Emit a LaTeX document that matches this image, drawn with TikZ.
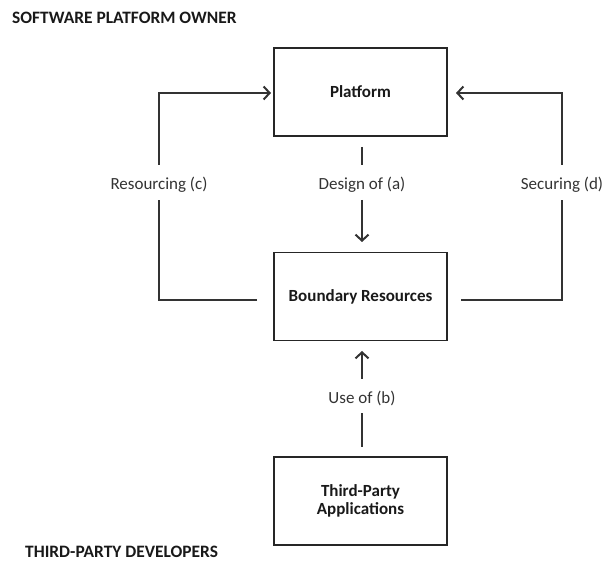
\documentclass[tikz,border=0pt]{standalone}
\usepackage{fontspec}
\setmainfont{Carlito}
\usetikzlibrary{arrows.meta}
\begin{document}
\begin{tikzpicture}[x=1pt,y=-1pt,
  box/.style={draw=black!85, line width=1.6pt, minimum width=173pt, minimum height=88pt,
    inner sep=0pt, font=\fontsize{17}{19}\selectfont\bfseries, align=center, text=black!90},
  lbl/.style={font=\fontsize{17}{19}\selectfont, text=black!80, inner sep=0pt},
  hdr/.style={font=\fontsize{17.4}{19}\selectfont\bfseries, text=black!90, inner sep=0pt, anchor=west},
  conn/.style={draw=black!80, line width=1.1pt},
  tip/.style={-{Straight Barb[length=6pt,width=13pt,line width=2pt]}}]
\useasboundingbox (0,0) rectangle (603,561);

% headings
\node[hdr] (owner) at (12,18) {SOFTWARE PLATFORM OWNER};
\node[hdr] (devs) at (25,552) {THIRD-PARTY DEVELOPERS};

% boxes
\node[box] (plat) at (360.5,92) {Platform};
\node[box] (bres) at (360.5,296.5) {Boundary Resources};
\node[box] (tpa) at (360.5,501) {Third-Party\\[-1pt]Applications};

% labels
\node[lbl] (la) at (362,185) {Design of (a)};
\node[lbl] (lb) at (362,398) {Use of (b)};
\node[lbl] (lc) at (159,185) {Resourcing (c)};
\node[lbl] (ld) at (562,185) {Securing (d)};

% free ends of the connectors
\coordinate (a1) at (362,147);
\coordinate (a2) at (362,242);
\coordinate (b1) at (362,447);
\coordinate (b2) at (362,351);
\coordinate (c0) at (257,300);
\coordinate (c1) at (159,300);
\coordinate (c2) at (159,93);
\coordinate (c3) at (271,93);
\coordinate (d0) at (461,300);
\coordinate (d1) at (562,300);
\coordinate (d2) at (562,93);
\coordinate (d3) at (456,93);

% design of (a)
\draw[conn] (a1) -- (la.north |- 0,165);
\draw[conn,tip] (la.south |- 0,200) -- (a2);
% use of (b)
\draw[conn] (b1) -- (lb.south |- 0,413);
\draw[conn,tip] (lb.north |- 0,379) -- (b2);
% resourcing (c)
\draw[conn] (c0) -- (c1) -- (lc.south |- 0,200);
\draw[conn,tip] (lc.north |- 0,165) -- (c2) -- (c3);
% securing (d)
\draw[conn] (d0) -- (d1) -- (ld.south |- 0,200);
\draw[conn,tip] (ld.north |- 0,165) -- (d2) -- (d3);
\end{tikzpicture}
\end{document}
